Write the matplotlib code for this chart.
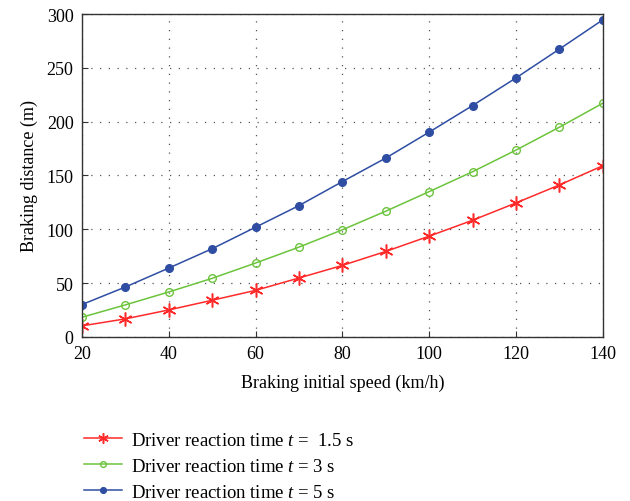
import matplotlib
matplotlib.use("Agg")
import matplotlib.pyplot as plt

plt.rcParams['font.family'] = ['Liberation Serif', 'DejaVu Serif']
plt.rcParams['mathtext.fontset'] = 'custom'
plt.rcParams['mathtext.rm'] = 'Liberation Serif'
plt.rcParams['mathtext.it'] = 'Liberation Serif:italic'

speed = [20, 30, 40, 50, 60, 70, 80, 90, 100, 110, 120, 130, 140]
dist_t15 = [10.2, 16.7, 25.0, 34.0, 43.2, 54.7, 66.4, 79.4, 93.6, 108.4, 124.5, 141.2, 159.1]
dist_t3 = [18.2, 29.7, 41.7, 54.4, 68.6, 83.4, 99.5, 116.8, 135.0, 153.5, 173.6, 194.9, 217.2]
dist_t5 = [30.0, 46.3, 63.9, 81.9, 101.9, 122.0, 144.3, 166.2, 190.3, 215.0, 240.7, 267.5, 294.7]
labels = ["Driver reaction time $t$ =  1.5 s",
          "Driver reaction time $t$ = 3 s",
          "Driver reaction time $t$ = 5 s"]
xticks = [20, 40, 60, 80, 100, 120, 140]
yticks = [0, 50, 100, 150, 200, 250, 300]

fig = plt.figure(figsize=(6.3, 5.02), dpi=100)
ax = fig.add_axes([0.130, 0.327, 0.827, 0.643])

ax.plot(speed, dist_t15, color='#ff2a2a', lw=1.1, marker=(6, 2, 0), ms=10, mew=1.1, label=labels[0])
ax.plot(speed, dist_t3, color='#6cc43c', lw=1.1, marker='o', ms=5.5, mfc='none', mew=1.0, label=labels[1])
ax.plot(speed, dist_t5, color='#2f4ea3', lw=1.1, marker='o', ms=5.5, mfc='#2f4ea3', mec='#2f4ea3', label=labels[2])

ax.set_xlim(20, 140)
ax.set_ylim(0, 300)
ax.set_xticks(xticks)
ax.set_yticks(yticks)
ax.tick_params(direction='in', labelsize=13, length=4, color='#333333', pad=6)
for s in ax.spines.values():
    s.set_color('#333333')
    s.set_linewidth(1.0)
ax.grid(True, color='#555555', linestyle=(0, (1, 6)), linewidth=0.9)
ax.set_xlabel('Braking initial speed (km/h)', fontsize=13, labelpad=8)
ax.set_ylabel('Braking distance (m)', fontsize=13, labelpad=6)

leg = fig.legend(loc='upper left', bbox_to_anchor=(0.107, 0.172), frameon=False,
                 fontsize=13.5, handlelength=2.0, labelspacing=0.48, handletextpad=0.5,
                 markerscale=0.75)

fig.savefig('out.png', dpi=100)
